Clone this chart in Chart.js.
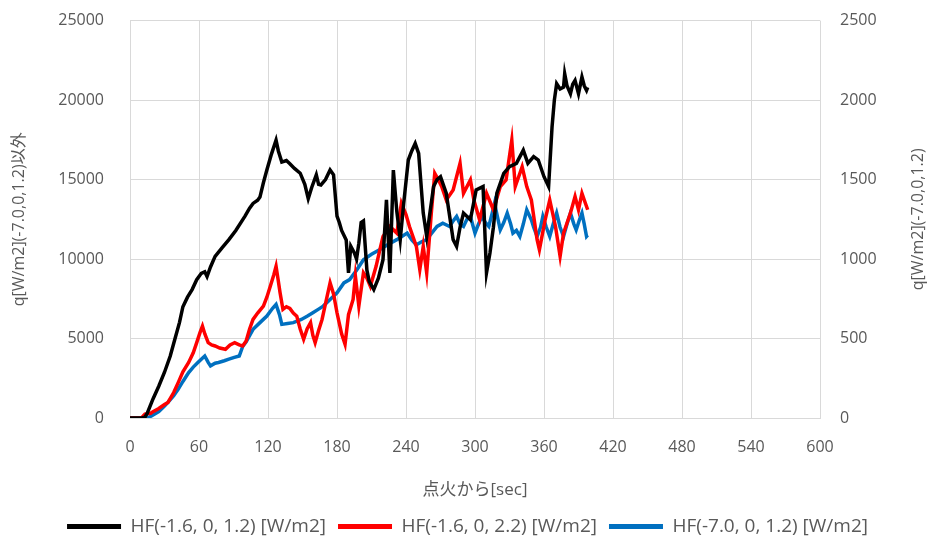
<!DOCTYPE html>
<html>
<head>
<meta charset="utf-8">
<script src="https://cdn.jsdelivr.net/npm/chart.js@4"></script>
<style>
  body { margin: 0; background: #fff; overflow: hidden; }
  #wrap { width: 935px; height: 561px; margin-top: -15px; }
</style>
</head>
<body>
<div id="wrap"><canvas id="hfChart"></canvas></div>
<script>
// time since ignition [sec] and heat flux values
const tBlack = [0, 5, 10, 13, 15, 20, 25, 30, 35, 39, 43, 46, 50, 54, 58, 62, 65, 67, 70, 74, 80, 86, 92, 100, 104, 107, 111, 113, 116, 119, 123, 127, 129, 132, 136, 139, 143, 148, 152, 155, 158, 162, 164, 166, 170, 174, 177, 180, 182, 184, 188, 190, 192, 195, 197, 199, 201, 203, 206, 208, 212, 216, 220, 223, 226, 229, 232, 235, 238, 242, 245, 248, 251, 255, 258, 261, 264, 267, 270, 275, 281, 284, 287, 290, 296, 301, 307, 310, 313, 316, 319, 325, 330, 336, 342, 346, 351, 355, 360, 364, 367, 369, 371, 374, 377, 378, 380, 383, 385, 387, 390, 393, 395, 397, 398];
const qBlack = [0, 0, 0, 50, 300, 1200, 2000, 2880, 3900, 4950, 6000, 7000, 7600, 8080, 8700, 9100, 9200, 8900, 9500, 10170, 10700, 11220, 11800, 12700, 13200, 13500, 13700, 13900, 14800, 15600, 16600, 17480, 16800, 16100, 16200, 16000, 15700, 15400, 14700, 13800, 14500, 15300, 14700, 14660, 15000, 15600, 15300, 12700, 12300, 11800, 11200, 9130, 10800, 10400, 10000, 11000, 12300, 12400, 9300, 8600, 8080, 8800, 9960, 13720, 9130, 15600, 13000, 11220, 13500, 16230, 16800, 17270, 16650, 12890, 11420, 13000, 14560, 15000, 15180, 14140, 11220, 10800, 12000, 12890, 12470, 14350, 14560, 9130, 10380, 12000, 14140, 15390, 15810, 16020, 16850, 16020, 16440, 16230, 15180, 14560, 18310, 20000, 21030, 20700, 20820, 21660, 20900, 20400, 21000, 21240, 20400, 21450, 20900, 20610, 20800];

const tRed = [0, 10, 13, 18, 20, 25, 30, 33, 38, 42, 46, 51, 55, 58, 61, 63, 65, 68, 71, 74, 78, 83, 87, 91, 95, 98, 101, 104, 107, 111, 116, 119, 122, 125, 127, 129, 130.5, 133, 136, 139, 142, 145, 148, 151, 154, 157, 159, 161, 164, 167, 170, 174, 177, 180, 184, 187, 190, 194, 196, 199, 203, 206, 209, 214, 217, 220, 226, 232, 236, 240, 243, 249, 252, 255, 258, 262, 265, 268, 271, 275, 281, 287, 290, 296, 299, 304, 310, 316, 322, 327, 332, 335, 341, 345, 349, 354, 356, 361, 365, 370, 374, 377, 383, 387, 390, 393, 396, 398];
const qRed = [0, 0, 250, 300, 400, 600, 850, 980, 1600, 2240, 2900, 3490, 4100, 4740, 5400, 5780, 5300, 4740, 4600, 4530, 4400, 4320, 4600, 4740, 4600, 4530, 4840, 5600, 6200, 6600, 7040, 7600, 8290, 9000, 9540, 8600, 7880, 6830, 7000, 6890, 6600, 6410, 5600, 4950, 5600, 6000, 5200, 4740, 5500, 6200, 7200, 8500, 7800, 6620, 5300, 4640, 6500, 7460, 8920, 7040, 9130, 8800, 8290, 9540, 10500, 11420, 12050, 11630, 13510, 12800, 12050, 10800, 9340, 10800, 9130, 12890, 15390, 15000, 14560, 13720, 14350, 16020, 14140, 14980, 13720, 12470, 14140, 13100, 14560, 14980, 17480, 14560, 15810, 14560, 13720, 11220, 10590, 12470, 13720, 12050, 10170, 11630, 12890, 13930, 13100, 14140, 13510, 13100];

const tBlue = [0, 15, 19, 25, 30, 33, 38, 42, 46, 51, 55, 59, 62, 65, 68, 70, 74, 77, 82, 86, 90, 95, 98, 101, 107, 113, 119, 124, 127, 130, 132, 137, 142, 149, 154, 159, 164, 168, 174, 180, 186, 191, 197, 203, 210, 217, 224, 232, 236, 241, 245, 249, 254, 258, 262, 267, 272, 278, 281, 284, 287, 290, 293, 296, 300, 303, 306, 309, 312, 315, 317, 320, 322, 325, 328, 331, 333, 336, 339, 342, 345, 349, 351, 354, 357, 359, 362, 365, 368, 371, 374, 377, 380, 383, 386, 388, 391, 393, 395, 397, 398];
const qBlue = [0, 0, 14, 40, 75, 98, 140, 182, 230, 286, 320, 349, 370, 390, 350, 328, 345, 349, 360, 370, 380, 390, 450, 480, 558, 600, 641, 690, 714, 650, 589, 595, 600, 620, 640, 662, 685, 704, 746, 788, 850, 871, 930, 996, 1030, 1059, 1090, 1122, 1140, 1163, 1120, 1090, 1110, 1122, 1160, 1205, 1226, 1205, 1240, 1268, 1220, 1205, 1250, 1268, 1163, 1220, 1268, 1230, 1205, 1290, 1351, 1250, 1184, 1230, 1289, 1220, 1163, 1180, 1142, 1220, 1310, 1247, 1200, 1142, 1200, 1268, 1200, 1142, 1220, 1289, 1200, 1142, 1220, 1289, 1220, 1184, 1250, 1289, 1220, 1142, 1150];

const seriesNames = ['HF(-1.6, 0, 1.2) [W/m2]', 'HF(-1.6, 0, 2.2) [W/m2]', 'HF(-7.0, 0, 1.2) [W/m2]'];
const xTitle = '点火から[sec]';
const yLeftTitle = 'q[W/m2](-7.0,0,1.2)以外';
const yRightTitle = 'q[W/m2](-7.0,0,1.2)';

const FONT = "'Open Sans', 'Noto Sans CJK JP', sans-serif";
const TXT = '#595959';
const GRID = '#d9d9d9';

function pts(t, v) {
    return t.map((x, i) => ({ x: x, y: v[i] }));
}

function series(label, t, v, color, axis) {
    return {
        label: label,
        data: pts(t, v),
        borderColor: color,
        backgroundColor: color,
        borderWidth: 3.5,
        pointRadius: 0,
        tension: 0,
        yAxisID: axis
    };
}

// right axis title reads bottom-to-top like the left one
const rightTitle = {
    id: 'rightTitle',
    afterDraw(chart) {
        const ctx = chart.ctx;
        const a = chart.chartArea;
        ctx.save();
        ctx.translate(918, (a.top + a.bottom) / 2);
        ctx.rotate(-Math.PI / 2);
        ctx.fillStyle = TXT;
        ctx.font = '16px ' + FONT;
        ctx.textAlign = 'center';
        ctx.textBaseline = 'middle';
        ctx.fillText(yRightTitle, 0, 0);
        ctx.restore();
    }
};

new Chart(document.getElementById('hfChart'), {
    type: 'line',
    data: {
        datasets: [
            series(seriesNames[0], tBlack, qBlack, '#000000', 'y'),
            series(seriesNames[1], tRed, qRed, '#ff0000', 'y'),
            series(seriesNames[2], tBlue, qBlue, '#0070c0', 'y1')
        ]
    },
    options: {
        responsive: true,
        maintainAspectRatio: false,
        animation: false,
        plugins: {
            tooltip: { enabled: false },
            legend: {
                position: 'bottom',
                labels: {
                    color: TXT,
                    font: { family: FONT, size: 19 },
                    boxWidth: 54,
                    boxHeight: 5,
                    padding: 12,
                    generateLabels: chart => Chart.defaults.plugins.legend.labels.generateLabels(chart)
                        .map(l => Object.assign(l, { lineWidth: 0 }))
                }
            }
        },
        scales: {
            x: {
                type: 'linear',
                min: 0,
                max: 600,
                grid: { color: GRID, drawTicks: false },
                border: { color: GRID },
                ticks: { stepSize: 60, color: TXT, padding: 20, font: { family: FONT, size: 16 }, callback: v => String(v) },
                title: { display: true, text: xTitle, color: TXT, font: { family: FONT, size: 17 }, padding: { top: 9, bottom: 5 } },
                afterFit: s => { s.height = 87; }
            },
            y: {
                position: 'left',
                min: 0,
                max: 25000,
                grid: { color: GRID, drawTicks: false },
                border: { display: false },
                ticks: { stepSize: 5000, color: TXT, padding: 26, font: { family: FONT, size: 16 }, callback: v => String(v) },
                title: { display: true, text: yLeftTitle, color: TXT, font: { family: FONT, size: 16 }, padding: { top: 10, bottom: 4 } },
                afterFit: s => { s.width = 130; }
            },
            y1: {
                position: 'right',
                min: 0,
                max: 2500,
                grid: { display: false, drawTicks: false },
                border: { display: false },
                ticks: { stepSize: 500, color: TXT, padding: 20, font: { family: FONT, size: 16 }, callback: v => String(v) },
                title: { display: false },
                afterFit: s => { s.width = 115; }
            }
        }
    },
    plugins: [rightTitle]
});
</script>
</body>
</html>
